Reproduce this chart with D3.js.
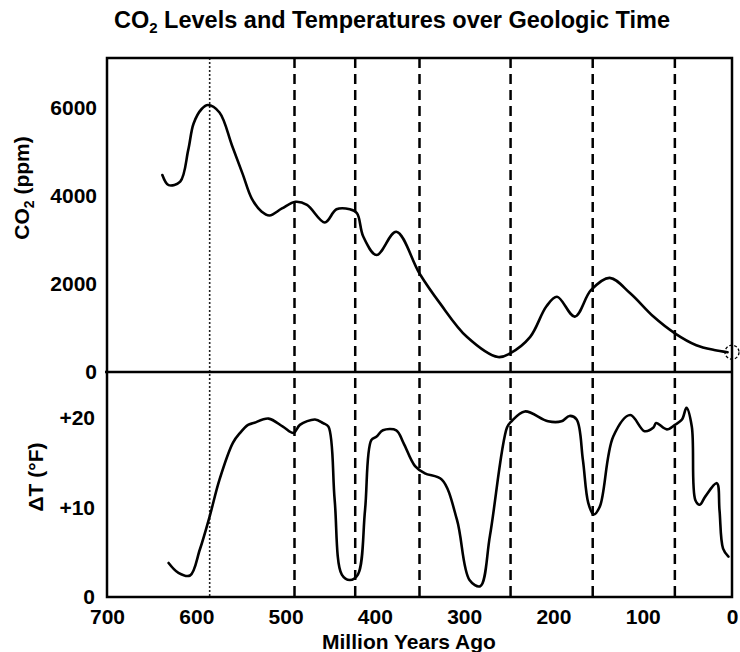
<!DOCTYPE html>
<html>
<head>
<meta charset="utf-8">
<script src="https://cdn.jsdelivr.net/npm/d3@7"></script>
<style>
  html, body { margin: 0; padding: 0; background: #fff; }
  svg { display: block; font-family: "Liberation Sans", Arial, Helvetica, sans-serif; font-weight: bold; }
</style>
</head>
<body>
<svg id="chart" width="740" height="652"></svg>
<script>
// Time axis: million years ago
const ageTicks = [700, 600, 500, 400, 300, 200, 100, 0];

// Atmospheric CO2 (ppm) through time
const co2Age = [638, 631, 618, 609, 603, 594, 587, 574, 560, 548, 538, 527, 518, 504, 489, 476, 456, 443, 428, 420, 413, 398, 376, 350, 327, 297, 262, 249, 226, 208, 196, 176, 158, 137, 114, 88, 64, 40, 20, 5];
const co2Ppm = [4480, 4250, 4330, 5050, 5650, 5980, 6070, 5900, 5150, 4500, 3950, 3650, 3560, 3720, 3870, 3800, 3400, 3700, 3700, 3610, 3080, 2660, 3190, 2240, 1560, 800, 340, 420, 800, 1490, 1710, 1260, 1860, 2140, 1790, 1260, 880, 610, 500, 450];
const co2Ticks = [0, 2000, 4000, 6000];
const co2Today = { age: 0, ppm: 450 };

// Temperature difference from today (°F)
const tempAge = [631, 620, 607, 596, 585, 574, 559, 551, 542, 536, 519, 503, 491, 484, 467, 458, 452, 445, 437, 428, 419, 411, 404, 398, 391, 376, 368, 355, 344, 325, 308, 294, 282, 271, 252, 247, 232, 206, 191, 182, 174, 167, 161, 155, 148, 133, 114, 98, 88, 85, 73, 64, 56, 51, 45, 41, 36, 30, 17, 14, 10, 4];
const tempDelta = [3.8, 2.7, 2.4, 5.3, 9.0, 13.1, 17.2, 18.3, 19.2, 19.4, 19.9, 19.0, 18.3, 19.2, 19.8, 19.4, 19.0, 10.8, 2.5, 1.9, 2.5, 9.7, 17.5, 17.9, 18.6, 18.6, 17.2, 14.6, 13.8, 13.1, 8.6, 1.9, 1.2, 6.9, 18.9, 19.6, 20.7, 19.6, 19.6, 20.2, 19.8, 15.3, 10.5, 9.2, 10.1, 17.9, 20.3, 18.5, 18.9, 19.4, 18.7, 19.2, 19.8, 21.1, 19.0, 10.8, 10.3, 11.2, 12.7, 9.7, 5.4, 4.5];
const tempTicks = [0, 10, 20];

// Event markers (million years ago)
const dottedMarks = [585];
const dashedMarks = [490, 422, 350, 248, 156, 64];

const svg = d3.select("#chart");
const plotL = 107, plotR = 732, plotT = 58, plotMid = 372, plotB = 597;

const x = d3.scaleLinear().domain([700, 0]).range([plotL, plotR]);
const yCo2 = d3.scaleLinear().domain([0, 7140]).range([plotMid, plotT]);
const yTemp = d3.scaleLinear().domain([0, 25.1]).range([plotB, plotMid]);

// Title
const title = svg.append("text")
  .attr("x", 392).attr("y", 28)
  .attr("text-anchor", "middle")
  .style("font-size", "23.5px");
title.append("tspan").text("CO");
title.append("tspan").text("2").attr("dy", 5).style("font-size", "15px");
title.append("tspan").text(" Levels and Temperatures over Geologic Time").attr("dy", -5);

// Marker lines
svg.append("g").selectAll("line").data(dashedMarks).join("line")
  .attr("x1", d => x(d)).attr("x2", d => x(d))
  .attr("y1", plotT).attr("y2", plotB)
  .attr("stroke", "#000").attr("stroke-width", 2.5)
  .attr("stroke-dasharray", "10,6");
svg.append("g").selectAll("line").data(dottedMarks).join("line")
  .attr("x1", d => x(d)).attr("x2", d => x(d))
  .attr("y1", plotT).attr("y2", plotB)
  .attr("stroke", "#222").attr("stroke-width", 1.6)
  .attr("stroke-dasharray", "2,2");

// Frame
const frame = svg.append("g").attr("fill", "none").attr("stroke", "#000").attr("stroke-width", 2.5);
frame.append("rect").attr("x", plotL).attr("y", plotT).attr("width", plotR - plotL).attr("height", plotB - plotT);
frame.append("line").attr("x1", plotL - 2).attr("x2", plotR).attr("y1", plotMid).attr("y2", plotMid);

// CO2 curve
const co2Line = d3.line()
  .x(i => x(co2Age[i])).y(i => yCo2(co2Ppm[i]))
  .curve(d3.curveCatmullRom.alpha(0.5));
svg.append("path")
  .attr("d", co2Line(d3.range(co2Age.length)))
  .attr("fill", "none").attr("stroke", "#000").attr("stroke-width", 2.6)
  .attr("stroke-linejoin", "round").attr("stroke-linecap", "round");

// Present-day marker
svg.append("circle")
  .attr("cx", x(co2Today.age)).attr("cy", yCo2(co2Today.ppm)).attr("r", 7)
  .attr("fill", "none").attr("stroke", "#000").attr("stroke-width", 1.3)
  .attr("stroke-dasharray", "3,2");

// Temperature curve
const tempLine = d3.line()
  .x(i => x(tempAge[i])).y(i => yTemp(tempDelta[i]))
  .curve(d3.curveCatmullRom.alpha(0.5));
svg.append("path")
  .attr("d", tempLine(d3.range(tempAge.length)))
  .attr("fill", "none").attr("stroke", "#000").attr("stroke-width", 2.6)
  .attr("stroke-linejoin", "round").attr("stroke-linecap", "round");

// Axes
function styleAxis(g) {
  g.select(".domain").remove();
  g.selectAll("line").remove();
  g.selectAll("text").style("font-size", "21px").attr("fill", "#000")
    .style("font-family", "'Liberation Sans', Arial, sans-serif").style("font-weight", "bold");
}
svg.append("g").attr("transform", `translate(${plotL},0)`)
  .call(d3.axisLeft(yCo2).tickValues(co2Ticks).tickSize(0).tickPadding(10).tickFormat(d3.format("d")))
  .call(styleAxis);
svg.append("g").attr("transform", `translate(${plotL},0)`)
  .call(d3.axisLeft(yTemp).tickValues(tempTicks).tickSize(0).tickPadding(12)
    .tickFormat(d => d === 0 ? "0" : "+" + d))
  .call(styleAxis);
svg.append("g").attr("transform", `translate(0,${plotB})`)
  .call(d3.axisBottom(x).tickValues(ageTicks).tickSize(0).tickPadding(12).tickFormat(d3.format("d")))
  .call(styleAxis);

// Axis titles
svg.append("text")
  .attr("x", 409).attr("y", 649)
  .attr("text-anchor", "middle")
  .style("font-size", "21px")
  .text("Million Years Ago");

const co2Label = svg.append("text")
  .attr("transform", "translate(29,188) rotate(-90)")
  .attr("text-anchor", "middle")
  .style("font-size", "21px");
co2Label.append("tspan").text("CO");
co2Label.append("tspan").text("2").attr("dy", 5).style("font-size", "14px");
co2Label.append("tspan").text(" (ppm)").attr("dy", -5);

svg.append("text")
  .attr("transform", "translate(43,477) rotate(-90)")
  .attr("text-anchor", "middle")
  .style("font-size", "21px")
  .text("ΔT (°F)");
</script>
</body>
</html>
